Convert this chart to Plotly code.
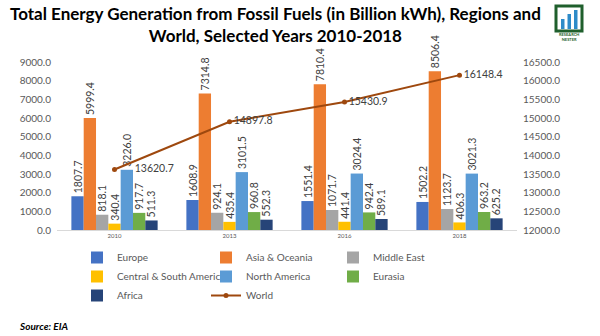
import plotly.graph_objects as go

years = ["2010", "2013", "2016", "2018"]
regions = ["Europe", "Asia & Oceania", "Middle East", "Central & South America",
           "North America", "Eurasia", "Africa"]
europe = [1807.7, 1608.9, 1551.4, 1502.2]
asia_oceania = [5999.4, 7314.8, 7810.4, 8506.4]
middle_east = [818.1, 924.1, 1071.7, 1123.7]
central_south_america = [340.4, 435.4, 441.4, 406.3]
north_america = [3226.0, 3101.5, 3024.4, 3021.3]
eurasia = [917.7, 960.8, 942.4, 963.2]
africa = [511.3, 552.3, 589.1, 625.2]
world = [13620.7, 14897.8, 15430.9, 16148.4]

series = [europe, asia_oceania, middle_east, central_south_america,
          north_america, eurasia, africa]
colors = ["#4472C4", "#ED7D31", "#A5A5A5", "#FFC000", "#5B9BD5", "#70AD47", "#264478"]
legend_ids = ["legend", "legend2", "legend3", "legend", "legend2", "legend3", "legend"]

FONT = "Lato"
TXT = "#404040"
AX = "#595959"

fig = go.Figure()
for name, vals, col, lg in zip(regions, series, colors, legend_ids):
    fig.add_trace(go.Bar(
        x=years, y=vals, name=name, marker_color=col, marker_line_width=0,
        text=[f"{v:.1f}" for v in vals], textposition="outside", textangle=-90,
        constraintext="none", cliponaxis=False,
        textfont=dict(family=FONT, size=10.5, color=TXT),
        legend=lg,
    ))

# first world label is pushed right (as in the source chart) to clear the bar labels
world_text = [f"{v:.1f}" for v in world]
world_text[0] = "\u00a0" * 6 + world_text[0]
fig.add_trace(go.Scatter(
    x=years, y=world, name="World", yaxis="y2", mode="lines+markers+text",
    line=dict(color="#9E480E", width=2), marker=dict(size=5, color="#9E480E"),
    text=world_text, textposition="middle right",
    textfont=dict(family=FONT, size=10.5, color=TXT), cliponaxis=False,
    legend="legend2",
))

# pixel -> paper helpers (plot area: x 57..517, y 62..230)
def px(x):
    return (x - 57) / 460
def py(y):
    return (230 - y) / 168

shapes = [
    dict(type="rect", xref="paper", yref="paper", x0=px(556), x1=px(582), y0=py(31), y1=py(6),
         line=dict(color="#1F5F2C", width=3), fillcolor="white", layer="above"),
    dict(type="rect", xref="paper", yref="paper", x0=px(561), x1=px(564.5), y0=py(29), y1=py(19),
         line_width=0, fillcolor="#2E8BC8", layer="above"),
    dict(type="rect", xref="paper", yref="paper", x0=px(567.5), x1=px(571), y0=py(29), y1=py(14),
         line_width=0, fillcolor="#2E8BC8", layer="above"),
    dict(type="rect", xref="paper", yref="paper", x0=px(574), x1=px(577.5), y0=py(29), y1=py(10),
         line_width=0, fillcolor="#2E8BC8", layer="above"),
]

annotations = [
    dict(text="<b>Total Energy Generation from Fossil Fuels (in Billion kWh), Regions and<br>World, Selected Years 2010-2018</b>",
         xref="paper", yref="paper", x=px(275), y=py(1), xanchor="center", yanchor="top",
         showarrow=False, font=dict(family=FONT, size=17, color="black")),
    dict(text="<b><i>Source: EIA</i></b>", xref="paper", yref="paper",
         x=px(17), y=py(326), xanchor="left", yanchor="middle", showarrow=False,
         font=dict(family=FONT, size=10, color="black")),
    dict(text="<b>RESEARCH<br>NESTER</b>", xref="paper", yref="paper",
         x=px(569), y=py(36.5), xanchor="center", yanchor="middle", showarrow=False,
         font=dict(family=FONT, size=4, color="#1F5F2C")),
]

leg_common = dict(xanchor="left", yanchor="top",
                  orientation="v", bgcolor="rgba(0,0,0,0)",
                  font=dict(family=FONT, size=10, color=AX), itemwidth=30)

fig.update_layout(
    width=600, height=336, autosize=False,
    margin=dict(l=57, r=83, t=62, b=106, autoexpand=False),
    paper_bgcolor="white", plot_bgcolor="white",
    font=dict(family=FONT, color=AX),
    barmode="group", bargap=0.25, bargroupgap=0,
    xaxis=dict(type="category", showline=True, linecolor="#D9D9D9", linewidth=1,
               ticks="", tickfont=dict(size=6, color=AX), showgrid=False, automargin=False),
    yaxis=dict(range=[0, 9000], dtick=1000, tickformat=".1f", showgrid=False,
               zeroline=False, ticks="", tickfont=dict(size=10, color=AX), automargin=False,
               ticklabelstandoff=5),
    yaxis2=dict(range=[12000, 16500], dtick=500, tickformat=".1f", overlaying="y",
                side="right", showgrid=False, zeroline=False, ticks="",
                tickfont=dict(size=10, color=AX), automargin=False, ticklabelstandoff=5),
    legend=dict(x=px(77), y=py(243), **leg_common),
    legend2=dict(x=px(206), y=py(243), **leg_common),
    legend3=dict(x=px(333), y=py(243), **leg_common),
    shapes=shapes, annotations=annotations,
    showlegend=True,
)

fig.write_html("out.html")
